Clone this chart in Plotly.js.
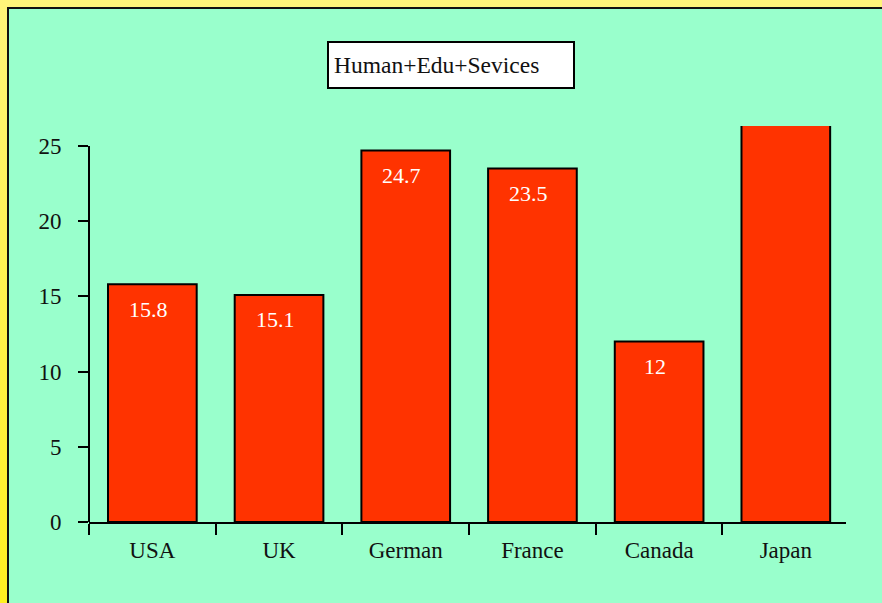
<!DOCTYPE html>
<html>
<head>
<meta charset="utf-8">
<script src="https://cdn.plot.ly/plotly-3.0.1.min.js"></script>
<style>
  html, body { margin:0; padding:0; width:882px; height:603px; overflow:hidden; background:#99FFCC; }
  .abs { position:absolute; }
</style>
</head>
<body>
<div class="abs" style="left:0;top:0;width:882px;height:603px;background:#99FFCC"></div>
<div class="abs" style="left:0;top:0;width:882px;height:7px;background:#FFF57A"></div>
<div class="abs" style="left:0;top:0;width:7px;height:603px;background:linear-gradient(#FFF57A,#FFF020)"></div>
<div class="abs" style="left:7px;top:7px;width:875px;height:2px;background:#111"></div>
<div class="abs" style="left:7px;top:7px;width:2px;height:596px;background:#111"></div>
<div id="chart" class="abs" style="left:0;top:0;width:882px;height:603px"></div>
<script>
// ---- data ----
const categories = ["USA", "UK", "German", "France", "Canada", "Japan"];
const values = [15.8, 15.1, 24.7, 23.5, 12, 27.5];
const yTicks = [0, 5, 10, 15, 20, 25];
const chartTitle = "Human+Edu+Sevices";

const FONT = "'Liberation Serif', 'Times New Roman', Times, serif";

const trace = {
  type: "bar",
  x: categories,
  y: values,
  marker: { color: "#FF3300", line: { color: "#000000", width: 2 } },
  hoverinfo: "none"
};

const valueLabels = categories.map((c, i) => ({
  x: c, y: values[i], xref: "x", yref: "y",
  text: String(values[i]),
  showarrow: false,
  yanchor: "middle",
  yshift: -25,
  xshift: -4,
  font: { family: FONT, size: 22, color: "#FFFFFF" }
}));

const titleBox = {
  xref: "paper", yref: "paper", x: 0.478, y: 1.154,
  xanchor: "center", yanchor: "middle",
  text: chartTitle, showarrow: false, align: "left",
  width: 234, height: 34,
  bgcolor: "#FFFFFF", bordercolor: "#000000", borderwidth: 2, borderpad: 5,
  font: { family: FONT, size: 23.5, color: "#111111" }
};

const layout = {
  width: 882, height: 603,
  margin: { l: 89, r: 36, t: 126, b: 81 },
  paper_bgcolor: "rgba(0,0,0,0)",
  plot_bgcolor: "rgba(0,0,0,0)",
  font: { family: FONT, size: 23, color: "#111111" },
  showlegend: false,
  bargap: 0.3,
  xaxis: {
    range: [-0.5, categories.length - 0.525],
    showline: true, linecolor: "#000000", linewidth: 2,
    ticks: "outside", tickson: "boundaries", ticklen: 11, tickwidth: 2, tickcolor: "#000000",
    ticklabelstandoff: 6,
    showgrid: false, zeroline: false,
    tickfont: { family: FONT, size: 23, color: "#111111" },
    fixedrange: true
  },
  yaxis: {
    range: [0, 26.33],
    tickmode: "array", tickvals: yTicks, ticktext: yTicks.map(String),
    showline: false, ticks: "outside", ticklen: 10, tickwidth: 2, tickcolor: "#000000",
    ticklabelstandoff: 12,
    showgrid: false, zeroline: false,
    tickfont: { family: FONT, size: 23, color: "#111111" },
    fixedrange: true
  },
  shapes: [{
    type: "line", xref: "paper", yref: "y",
    x0: 0, x1: 0, y0: Math.min(...yTicks), y1: Math.max(...yTicks),
    line: { color: "#000000", width: 2 }
  }],
  annotations: [titleBox].concat(valueLabels)
};

Plotly.newPlot("chart", [trace], layout, { displayModeBar: false, staticPlot: true });
</script>
</body>
</html>
